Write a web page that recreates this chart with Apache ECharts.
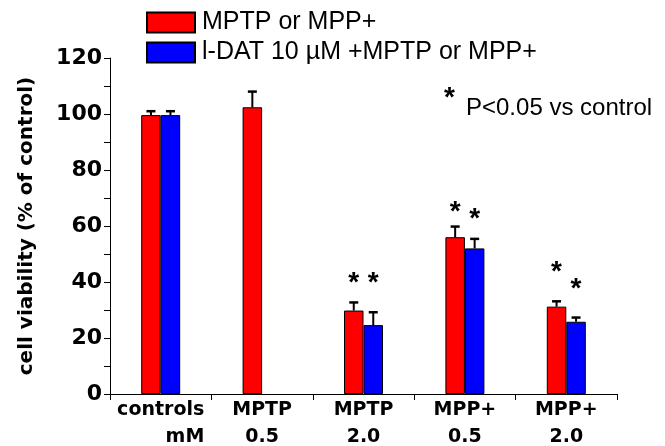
<!DOCTYPE html>
<html>
<head>
<meta charset="utf-8">
<script src="https://cdn.jsdelivr.net/npm/echarts@6/dist/echarts.min.js"></script>
<style>
  html, body { margin: 0; padding: 0; background: #fff; }
  #chart { width: 665px; height: 446px; }
</style>
</head>
<body>
<div id="chart"></div>
<script>
// Treatment groups: agent on the first label line, concentration on the second
const agents = ['controls', 'MPTP', 'MPTP', 'MPP+', 'MPP+'];
const doses = ['mM', '0.5', '2.0', '0.5', '2.0'];

// Mean cell viability (% of control) and top of the error bar (mean + SEM)
const toxinMean = [99.6, 102.4, 29.8, 56.0, 31.2];
const toxinUpper = [101.0, 108.0, 32.7, 59.8, 33.1];
const ldatMean = [99.6, null, 24.6, 52.0, 25.8];
const ldatUpper = [101.0, null, 29.2, 55.4, 27.3];

// Height (in axis units) of the significance asterisks above each bar
const toxinStar = [null, null, 41.8, 66.9, 45.5];
const ldatStar = [null, null, 41.8, 64.6, 39.6];

const seriesNames = ['MPTP or MPP+', 'l-DAT 10 \u00b5M +MPTP or MPP+'];
const yTicks = { min: 0, max: 120, step: 10, labelStep: 20 };

const BAR_W = 19.5;
const BOLD = 'DejaVu Sans';

function errorData(means, uppers) {
  const out = [];
  means.forEach((m, i) => { if (m != null) out.push([i, m, uppers[i]]); });
  return out;
}
function starData(stars) {
  const out = [];
  stars.forEach((s, i) => { if (s != null) out.push([i, s]); });
  return out;
}

function errorRenderer(offset) {
  return function (params, api) {
    const i = api.value(0);
    const base = api.coord([i, api.value(1)]);
    const top = api.coord([i, api.value(2)]);
    const x = base[0] + offset;
    const st = { stroke: '#000', lineWidth: 2 };
    return {
      type: 'group',
      children: [
        { type: 'line', shape: { x1: x, y1: base[1], x2: x, y2: top[1] }, style: st },
        { type: 'line', shape: { x1: x - 4.5, y1: top[1], x2: x + 4.5, y2: top[1] }, style: { stroke: '#000', lineWidth: 2.5 } }
      ]
    };
  };
}

function starRenderer(offset) {
  return function (params, api) {
    const p = api.coord([api.value(0), api.value(1)]);
    return {
      type: 'text',
      x: p[0] + offset,
      y: p[1] + 6,
      style: {
        text: '*', fill: '#000', fontSize: 28, fontWeight: 'bold',
        fontFamily: 'Liberation Sans', align: 'center', verticalAlign: 'middle'
      }
    };
  };
}

const chart = echarts.init(document.getElementById('chart'), null, { renderer: 'canvas' });

chart.setOption({
  animation: false,
  backgroundColor: '#fff',
  grid: {
    left: 110, right: 48, top: 58, bottom: 52,
    containLabel: false, outerBoundsMode: 'none'
  },
  legend: {
    data: seriesNames,
    orient: 'vertical',
    left: 141,
    top: 5,
    icon: 'rect',
    itemWidth: 48,
    itemHeight: 20,
    itemGap: 5,
    selectedMode: false,
    textStyle: {
      fontFamily: 'Liberation Sans', fontSize: 25, color: '#000',
      lineHeight: 25, padding: [0, 0, 0, 2]
    }
  },
  xAxis: {
    type: 'category',
    data: agents.map((a, i) => a + ' ' + doses[i]),
    axisLine: { lineStyle: { color: '#000', width: 1 } },
    axisTick: { show: true, length: 6, lineStyle: { color: '#000' } },
    axisLabel: {
      interval: 0,
      margin: 3,
      color: '#000',
      fontFamily: BOLD,
      fontWeight: 'bold',
      fontSize: 19,
      lineHeight: 27,
      formatter: function (v, i) {
        return i === 0
          ? agents[i] + '\n{mm|' + doses[i] + '}'
          : agents[i] + '\n' + doses[i];
      },
      rich: {
        mm: {
          align: 'right', fontFamily: BOLD, fontWeight: 'bold',
          fontSize: 19, lineHeight: 27, color: '#000'
        }
      }
    },
    splitLine: { show: false }
  },
  yAxis: {
    type: 'value',
    min: yTicks.min,
    max: yTicks.max,
    interval: yTicks.step,
    name: 'cell viability (% of control)',
    nameLocation: 'middle',
    nameGap: 73,
    nameTextStyle: {
      fontFamily: BOLD, fontWeight: 'bold', fontSize: 20, color: '#000'
    },
    axisLine: { show: true, lineStyle: { color: '#000', width: 1 } },
    axisTick: { show: true, length: 6, lineStyle: { color: '#000' } },
    axisLabel: {
      margin: 8,
      color: '#000',
      fontFamily: BOLD,
      fontWeight: 'bold',
      fontSize: 22,
      formatter: v => (v % yTicks.labelStep === 0 ? String(v) : '')
    },
    splitLine: { show: false }
  },
  series: [
    {
      name: seriesNames[0],
      type: 'bar',
      data: toxinMean,
      barWidth: BAR_W,
      barGap: '0%',
      itemStyle: { color: '#ff0000', borderColor: '#000', borderWidth: 1 }
    },
    {
      name: seriesNames[1],
      type: 'bar',
      data: ldatMean,
      barWidth: BAR_W,
      barGap: '0%',
      itemStyle: { color: '#0000ff', borderColor: '#000', borderWidth: 1 }
    },
    {
      name: 'toxin-sem',
      type: 'custom',
      renderItem: errorRenderer(-BAR_W / 2),
      data: errorData(toxinMean, toxinUpper),
      encode: { x: 0, y: [1, 2] },
      z: 3, silent: true
    },
    {
      name: 'ldat-sem',
      type: 'custom',
      renderItem: errorRenderer(BAR_W / 2),
      data: errorData(ldatMean, ldatUpper),
      encode: { x: 0, y: [1, 2] },
      z: 3, silent: true
    },
    {
      name: 'toxin-sig',
      type: 'custom',
      renderItem: starRenderer(-BAR_W / 2),
      data: starData(toxinStar),
      encode: { x: 0, y: 1 },
      z: 4, silent: true
    },
    {
      name: 'ldat-sig',
      type: 'custom',
      renderItem: starRenderer(BAR_W / 2),
      data: starData(ldatStar),
      encode: { x: 0, y: 1 },
      z: 4, silent: true
    }
  ],
  graphic: [
    {
      type: 'text', left: 444, top: 84,
      style: { text: '*', fontSize: 28, fontWeight: 'bold', fontFamily: 'Liberation Sans', fill: '#000' }
    },
    {
      type: 'text', left: 466, top: 96,
      style: { text: 'P<0.05 vs control', fontSize: 24, fontFamily: 'Liberation Sans', fill: '#000' }
    }
  ]
});
</script>
</body>
</html>
